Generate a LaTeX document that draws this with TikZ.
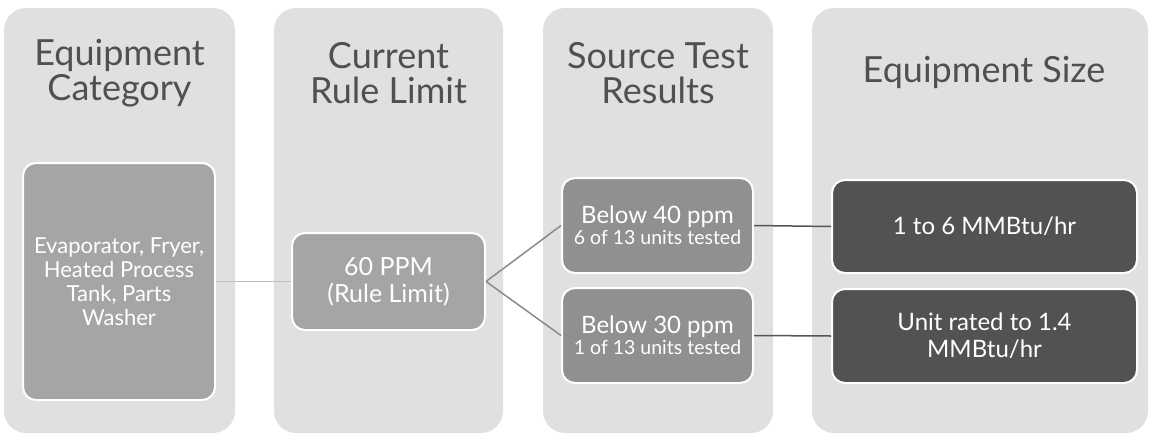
\documentclass[tikz,border=0pt]{standalone}
\usepackage{fontspec}
\setmainfont{Lato}
\definecolor{colbg}{HTML}{E0E0E0}
\definecolor{headtxt}{HTML}{505050}
\definecolor{boxA}{HTML}{A5A5A5}
\definecolor{boxB}{HTML}{909090}
\definecolor{boxC}{HTML}{525252}
\definecolor{lnA}{HTML}{BDBDBD}
\definecolor{lnB}{HTML}{8A8A8A}
\definecolor{lnC}{HTML}{555555}
\tikzset{
  column/.style={fill=colbg, draw=none, rounded corners=22pt, inner sep=0pt},
  header/.style={text=headtxt, align=center, font=\fontsize{36}{35}\selectfont, inner sep=0pt},
  item/.style={draw=white, line width=2pt, rounded corners=13pt, text=white, align=center, inner sep=2pt,
     font=\fontsize{22}{24}\selectfont},
  big/.style={font=\fontsize{25}{27}\selectfont},
  mid/.style={font=\fontsize{24}{27}\selectfont},
}
\begin{document}
\begin{tikzpicture}[x=1pt,y=-1pt]
\useasboundingbox (0,0) rectangle (1149,437);
% columns
\node[column, minimum width=231pt, minimum height=425pt] (c1) at (119.5,220.5) {};
\node[column, minimum width=229pt, minimum height=425pt] (c2) at (388.5,220.5) {};
\node[column, minimum width=230pt, minimum height=425pt] (c3) at (658,220.5) {};
\node[column, minimum width=336pt, minimum height=425pt] (c4) at (980,220.5) {};
% headers
\node[header] (h1) at (119.5,73) {Equipment\\Category};
\node[header] (h2) at (388.5,73) {Current\\Rule Limit};
\node[header] (h3) at (658,73) {Source Test\\Results};
\node[header] (h4) at (984,72) {Equipment Size};
% items
\node[item, fill=boxA, minimum width=192pt, minimum height=237pt] (b1) at (119,281.5)
  {Evaporator, Fryer,\\Heated Process\\Tank, Parts\\Washer};
\node[item, big, fill=boxA, minimum width=193pt, minimum height=97pt] (b2) at (388.5,281.5)
  {60 PPM\\(Rule Limit)};
\node[item, fill=boxB, minimum width=191pt, minimum height=95pt] (b3) at (657.5,225.5)
  {{\fontsize{24}{24}\selectfont Below 40 ppm}\\[-3pt]{\fontsize{19.5}{21}\selectfont 6 of 13 units tested}};
\node[item, fill=boxB, minimum width=191pt, minimum height=95pt] (b4) at (657.5,335.5)
  {{\fontsize{24}{24}\selectfont Below 30 ppm}\\[-3pt]{\fontsize{19.5}{21}\selectfont 1 of 13 units tested}};
\node[item, mid, fill=boxC, minimum width=305pt, minimum height=93pt] (b5) at (984.5,226.5)
  {1 to 6 MMBtu/hr};
\node[item, mid, fill=boxC, minimum width=305pt, minimum height=94pt] (b6) at (984.5,336)
  {Unit rated to 1.4\\MMBtu/hr};
% connectors
\draw[lnA, line width=1.5pt] (b1.east) -- (b2.west);
\draw[lnB, line width=1.5pt] (b2.east) -- (b3.west);
\draw[lnB, line width=1.5pt] (b2.east) -- (b4.west);
\draw[lnC, line width=1.5pt] (b3.east) -- (b5.west);
\draw[lnC, line width=1.5pt] (b4.east) -- (b6.west);
\end{tikzpicture}
\end{document}
